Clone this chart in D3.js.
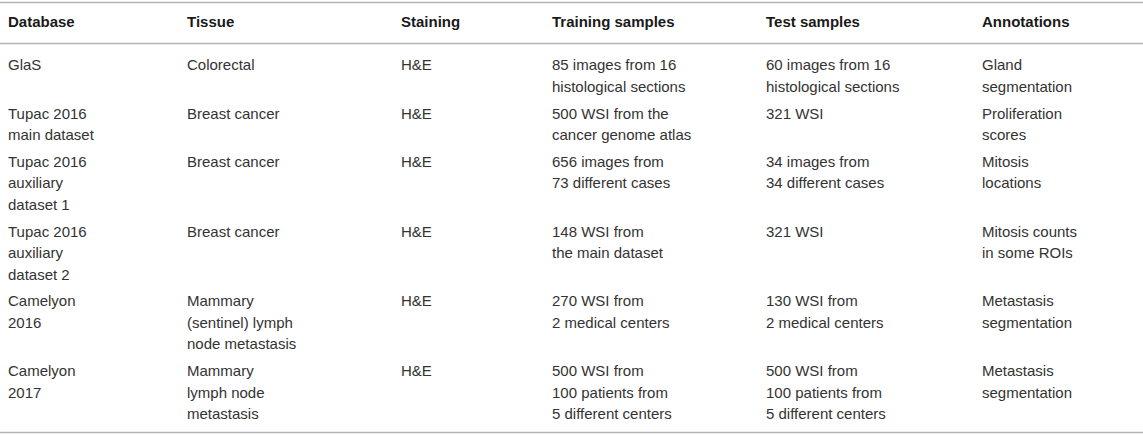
<!DOCTYPE html>
<html>
<head>
<meta charset="utf-8">
<title>Histopathology databases</title>
<script src="https://d3js.org/d3.v7.min.js"></script>
<style>
    body { margin: 0; background: #fff; }
    .head { font: bold 15px "Liberation Sans", Arial, sans-serif; fill: #1a1a1a; }
    .cell { font: 15px "Liberation Sans", Arial, sans-serif; fill: #333; }
    .rule { stroke: #b4b4b4; stroke-width: 1.5; }
</style>
</head>
<body>
<svg id="table"></svg>
<script>
// table content, one array per column, lines split with "\n"
const headers = ["Database", "Tissue", "Staining", "Training samples", "Test samples", "Annotations"];

const database = ["GlaS", "Tupac 2016\nmain dataset", "Tupac 2016\nauxiliary\ndataset 1",
    "Tupac 2016\nauxiliary\ndataset 2", "Camelyon\n2016", "Camelyon\n2017"];
const tissue = ["Colorectal", "Breast cancer", "Breast cancer", "Breast cancer",
    "Mammary\n(sentinel) lymph\nnode metastasis", "Mammary\nlymph node\nmetastasis"];
const staining = ["H&E", "H&E", "H&E", "H&E", "H&E", "H&E"];
const training = ["85 images from 16\nhistological sections", "500 WSI from the\ncancer genome atlas",
    "656 images from\n73 different cases", "148 WSI from\nthe main dataset",
    "270 WSI from\n2 medical centers", "500 WSI from\n100 patients from\n5 different centers"];
const test = ["60 images from 16\nhistological sections", "321 WSI",
    "34 images from\n34 different cases", "321 WSI",
    "130 WSI from\n2 medical centers", "500 WSI from\n100 patients from\n5 different centers"];
const annotations = ["Gland\nsegmentation", "Proliferation\nscores", "Mitosis\nlocations",
    "Mitosis counts\nin some ROIs", "Metastasis\nsegmentation", "Metastasis\nsegmentation"];

const columns = [database, tissue, staining, training, test, annotations];

// layout
const width = 1143, height = 435;
const lineH = 21.4, rowPad = 5.5;
const headY = 22, firstY = 65;

const svg = d3.select("#table")
    .attr("width", width)
    .attr("height", height);

const x = d3.scaleOrdinal()
    .domain(headers)
    .range([8, 187, 401, 552, 766, 982]);

// row starts from the number of lines in each row
const nRows = database.length;
const rowLines = d3.range(nRows).map(r => d3.max(columns, c => c[r].split("\n").length));
const rowY = [];
let acc = firstY;
rowLines.forEach(n => { rowY.push(acc); acc += n * lineH + rowPad; });

// rules
svg.selectAll("line.rule")
    .data([2.5, 43.5, 432.5])
    .join("line")
    .attr("class", "rule")
    .attr("x1", 0).attr("x2", width)
    .attr("y1", d => d).attr("y2", d => d);

// header
svg.selectAll("text.head")
    .data(headers)
    .join("text")
    .attr("class", "head")
    .attr("x", d => x(d))
    .attr("y", headY)
    .attr("dy", "0.36em")
    .text(d => d);

// body cells
const cells = [];
columns.forEach((col, ci) => {
    col.forEach((txt, ri) => cells.push({ col: headers[ci], row: ri, lines: txt.split("\n") }));
});

const cell = svg.selectAll("text.cell")
    .data(cells)
    .join("text")
    .attr("class", "cell")
    .attr("x", d => x(d.col))
    .attr("y", d => rowY[d.row]);

cell.selectAll("tspan")
    .data(d => d.lines.map(l => ({ t: l, x: x(d.col) })))
    .join("tspan")
    .attr("x", d => d.x)
    .attr("dy", (d, i) => i === 0 ? "0.36em" : lineH)
    .text(d => d.t);
</script>
</body>
</html>
